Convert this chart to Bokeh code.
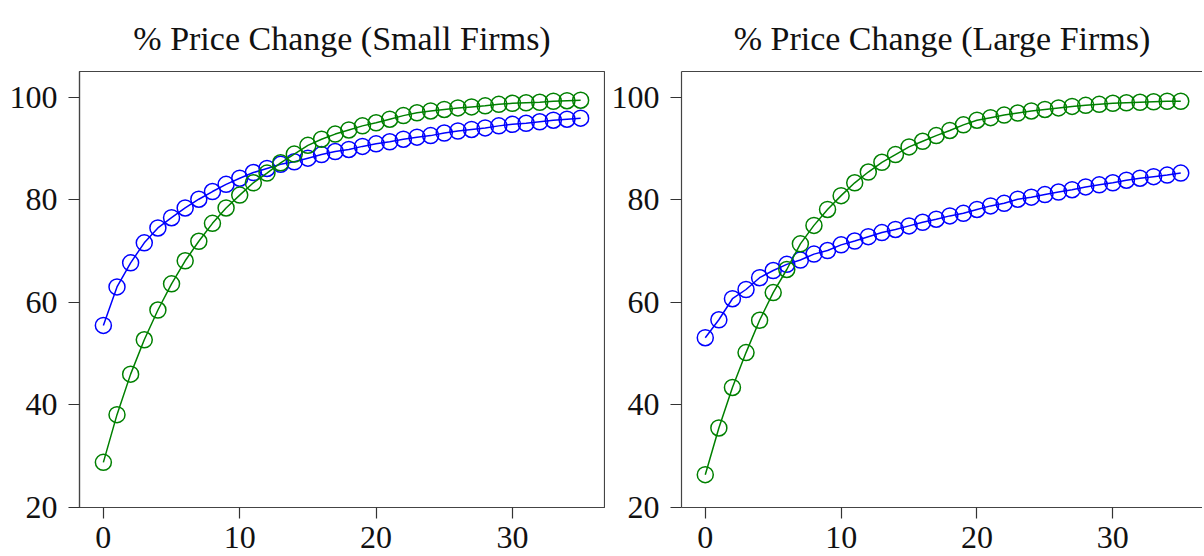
from bokeh.plotting import figure
from bokeh.layouts import row
from bokeh.models import FixedTicker, LinearAxis, Range1d
from bokeh.embed import file_html
from bokeh.resources import INLINE

horizon = list(range(36))

titles = ["% Price Change (Small Firms)", "% Price Change (Large Firms)"]

small_blue = [55.5, 63.0, 67.7, 71.6, 74.5, 76.5, 78.4, 80.1, 81.6, 83.0,
              84.2, 85.3, 86.1, 86.9, 87.4, 88.1, 88.8, 89.4, 89.8, 90.4,
              90.9, 91.3, 91.8, 92.2, 92.5, 93.0, 93.4, 93.7, 94.0, 94.4,
              94.7, 94.9, 95.2, 95.5, 95.7, 95.9]
small_green = [28.8, 38.1, 46.0, 52.7, 58.5, 63.6, 68.1, 71.9, 75.4, 78.4,
               80.9, 83.3, 85.2, 87.2, 88.9, 90.6, 91.8, 92.8, 93.6, 94.4,
               95.0, 95.7, 96.4, 96.95, 97.3, 97.6, 97.9, 98.1, 98.3, 98.6,
               98.8, 98.9, 99.0, 99.2, 99.3, 99.4]
large_blue = [53.1, 56.6, 60.7, 62.5, 64.8, 66.2, 67.4, 68.25, 69.4, 70.1,
              71.2, 71.95, 72.8, 73.6, 74.2, 74.9, 75.6, 76.2, 76.85, 77.35,
              78.1, 78.8, 79.3, 80.1, 80.5, 81.0, 81.5, 81.95, 82.5, 82.9,
              83.3, 83.8, 84.2, 84.5, 84.8, 85.2]
large_green = [26.4, 35.5, 43.4, 50.2, 56.5, 61.9, 66.4, 71.4, 75.0, 78.1,
               80.8, 83.3, 85.4, 87.3, 88.8, 90.3, 91.4, 92.5, 93.5, 94.6,
               95.5, 96.0, 96.5, 96.9, 97.3, 97.6, 97.9, 98.2, 98.4, 98.6,
               98.8, 98.9, 99.0, 99.1, 99.2, 99.2]

x_ticks = [0, 10, 20, 30]
y_ticks = [20, 40, 60, 80, 100]

FONT = "Liberation Serif"
FRAME = "#444444"
HEIGHT = 554


def make_panel(title, blue, green, width, left, right, x_end, box=True):
    p = figure(width=width, height=HEIGHT, output_backend="svg", toolbar_location=None,
               x_range=Range1d(-1.75, x_end), y_range=Range1d(20, 105),
               min_border_left=left, min_border_right=right,
               min_border_top=71, min_border_bottom=HEIGHT - 71 - 436)
    p.title.text = title
    p.title.text_font = FONT
    p.title.text_font_size = "34px"
    p.title.text_font_style = "normal"
    p.title.text_color = "#111111"
    p.title.align = "center"
    p.title.standoff = 30
    p.grid.visible = False
    p.background_fill_color = "white"
    p.border_fill_color = "white"
    for ax, ticks in ((p.xaxis, x_ticks), (p.yaxis, y_ticks)):
        ax.ticker = FixedTicker(ticks=ticks)
        ax.minor_tick_line_color = None
        ax.major_tick_in = 0
        ax.major_tick_out = 11
        ax.major_tick_line_color = "#333333"
        ax.major_tick_line_width = 1.2
        ax.axis_line_color = FRAME
        ax.axis_line_width = 1.2
        ax.major_label_text_font = FONT
        ax.major_label_text_font_size = "32px"
        ax.major_label_text_color = "#111111"
        ax.major_label_text_line_height = 0.8
    p.yaxis.major_label_standoff = 11
    p.xaxis.major_label_standoff = 8
    if box:
        p.outline_line_color = FRAME
        p.outline_line_width = 1.2
    else:
        p.outline_line_color = None
        top = LinearAxis(ticker=FixedTicker(ticks=[]), axis_line_color=FRAME,
                         axis_line_width=1.2, major_tick_out=0, major_tick_in=0,
                         minor_tick_out=0, minor_tick_in=0,
                         major_label_text_font_size="0px",
                         major_label_standoff=0)
        p.add_layout(top, "above")

    for vals, col in ((blue, "#0000ff"), (green, "#008000")):
        p.line(horizon, vals, line_color=col, line_width=1.5)
        p.scatter(horizon, vals, marker="circle", size=16, fill_color=None,
                  line_color=col, line_width=1.5)
    return p


p1 = make_panel(titles[0], small_blue, small_green, 605, 79, 1, 36.75, box=True)
p2 = make_panel(titles[1], large_blue, large_green, 597, 76, 0, 36.6, box=False)

layout = row(p1, p2)
open("out.html", "w").write(file_html(layout, INLINE))
